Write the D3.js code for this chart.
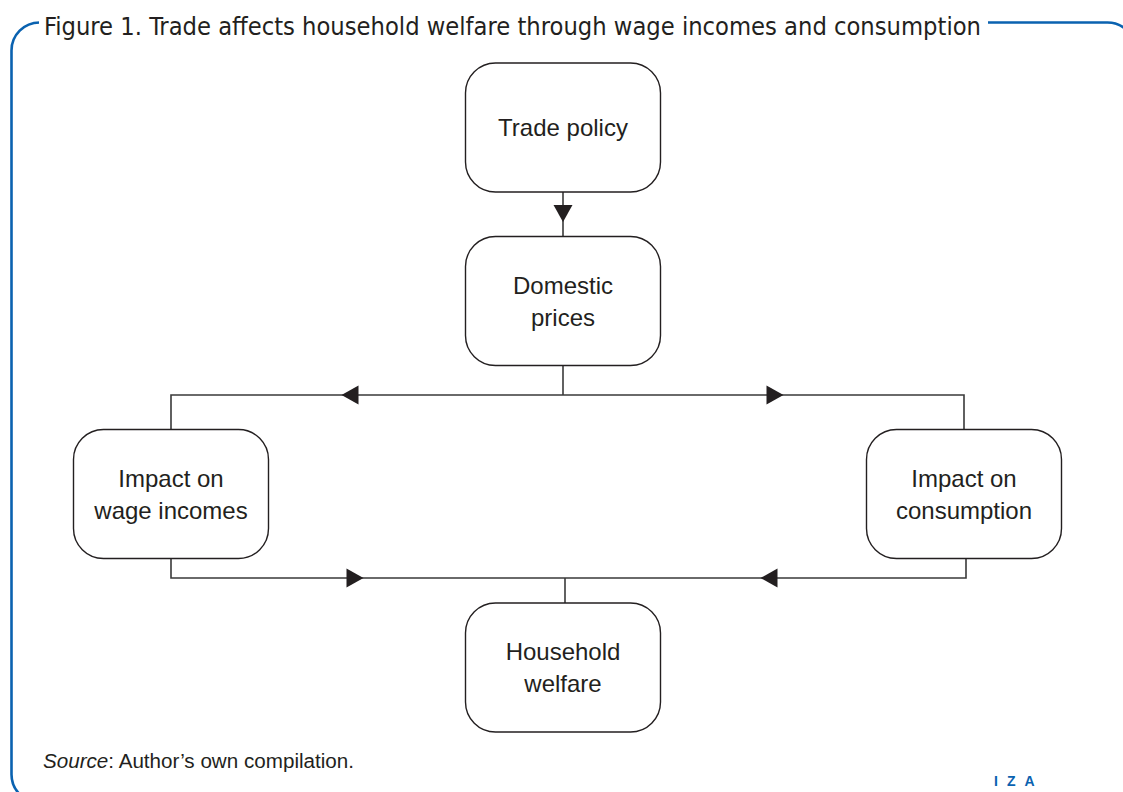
<!DOCTYPE html>
<meta charset="utf-8">
<style>
body { margin: 0; background: #fff; }
text { font-family: "Liberation Sans", "Open Sans", sans-serif; fill: #231f20; }
.box { fill: #fff; stroke: #231f20; stroke-width: 1.4px; }
.link { fill: none; stroke: #3a3a3a; stroke-width: 1.6px; }
.arrow { fill: #231f20; }
</style>
<svg width="1123" height="792" id="chart1"></svg>
<script src="https://cdn.jsdelivr.net/npm/d3@7"></script>
<script>

var title = "Figure 1. Trade affects household welfare through wage incomes and consumption";
var source = ["Source", ": Author\u2019s own compilation."];

// nodes: id, column, row, label lines
var nodeIds   = ["trade", "prices", "wages", "consumption", "welfare"];
var nodeCols  = ["mid", "mid", "left", "right", "mid"];
var nodeRows  = ["r1", "r2", "r3", "r3", "r4"];
var nodeLines = [["Trade policy"], ["Domestic", "prices"], ["Impact on", "wage incomes"],
                 ["Impact on", "consumption"], ["Household", "welfare"]];

// arrows: where it sits and which way it points
var arrowAt  = [["mid", "gap12"], ["arrowL", "split"], ["arrowR", "split"], ["arrowL2", "join"], ["arrowR2", "join"]];
var arrowDir = ["down", "left", "right", "right", "left"];

var svg = d3.select("svg#chart1");

var x = d3.scaleOrdinal()
    .domain(["left", "mid", "right", "arrowL", "arrowR", "arrowL2", "arrowR2"])
    .range([171, 563, 964, 350, 775, 355, 769]);
var y = d3.scaleOrdinal()
    .domain(["r1", "r2", "r3", "r4", "gap12", "split", "join"])
    .range([127.5, 301, 494, 667.5, 213.5, 395, 578]);

var boxW = 195, boxH = 129, boxR = 30;

// frame
var blue = "#0a62b0";
svg.append("rect")
    .attr("x", 11.5).attr("y", 22.5)
    .attr("width", 1124).attr("height", 780)
    .attr("rx", 28)
    .attr("fill", "none")
    .attr("stroke", blue)
    .attr("stroke-width", 2.6);
svg.append("rect")
    .attr("x", 39).attr("y", 10)
    .attr("width", 949).attr("height", 24)
    .attr("fill", "#fff");
svg.append("text")
    .attr("x", 44).attr("y", 35)
    .attr("font-size", 25)
    .style("font-family", "'DejaVu Sans Condensed', 'DejaVu Sans', sans-serif")
    .attr("textLength", 937)
    .attr("lengthAdjust", "spacingAndGlyphs")
    .text(title);

// connectors
var links = [
  [[x("mid"), y("r1") + boxH / 2], [x("mid"), y("r2") - boxH / 2]],
  [[x("mid"), y("r2") + boxH / 2], [x("mid"), y("split")]],
  [[x("left"), y("r3") - boxH / 2], [x("left"), y("split")], [x("right"), y("split")], [x("right"), y("r3") - boxH / 2]],
  [[x("left"), y("r3") + boxH / 2], [x("left"), y("join")], [x("right") + 2, y("join")], [x("right") + 2, y("r3") + boxH / 2]],
  [[x("mid") + 2, y("join")], [x("mid") + 2, y("r4") - boxH / 2]]
];
svg.selectAll(".link")
    .data(links)
    .enter().append("path")
      .attr("class", "link")
      .attr("d", d3.line());

var tri = {
  down:  "M-9.5,-8.5L9.5,-8.5L0,8.5Z",
  left:  "M-8.5,0L8.5,-9.5L8.5,9.5Z",
  right: "M8.5,0L-8.5,-9.5L-8.5,9.5Z"
};
svg.selectAll(".arrow")
    .data(arrowAt)
    .enter().append("path")
      .attr("class", "arrow")
      .attr("transform", function(d) { return "translate(" + x(d[0]) + "," + y(d[1]) + ")"; })
      .attr("d", function(d, i) { return tri[arrowDir[i]]; });

// boxes
var node = svg.selectAll(".node")
    .data(nodeIds)
    .enter().append("g")
      .attr("class", "node")
      .attr("transform", function(d, i) { return "translate(" + x(nodeCols[i]) + "," + y(nodeRows[i]) + ")"; });

node.append("rect")
    .attr("class", "box")
    .attr("x", -boxW / 2).attr("y", -boxH / 2)
    .attr("width", boxW).attr("height", boxH)
    .attr("rx", boxR);

node.each(function(d, i) {
  var lines = nodeLines[i];
  d3.select(this).selectAll("text")
      .data(lines)
      .enter().append("text")
        .attr("text-anchor", "middle")
        .attr("font-size", 24)
        .attr("y", function(t, j) { return (j - (lines.length - 1) / 2) * 32 + 8.5; })
        .text(function(t) { return t; });
});

// footer
var src = svg.append("text")
    .attr("x", 43).attr("y", 768)
    .attr("font-size", 19.5)
    .attr("textLength", 311)
    .attr("lengthAdjust", "spacingAndGlyphs");
src.append("tspan").attr("font-style", "italic").text(source[0]);
src.append("tspan").text(source[1]);

svg.append("text")
    .attr("x", 994).attr("y", 786)
    .attr("font-size", 14)
    .attr("font-weight", "bold")
    .attr("letter-spacing", 9)
    .style("fill", blue)
    .text("IZA");

</script>
